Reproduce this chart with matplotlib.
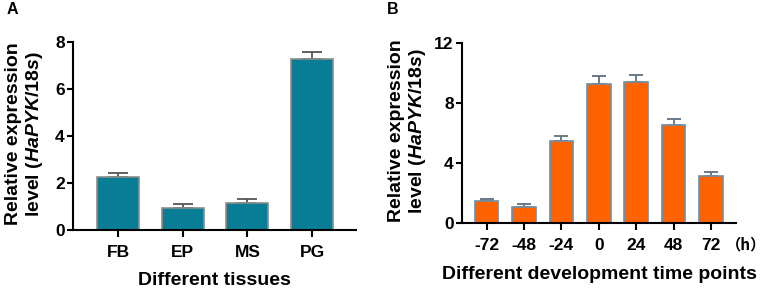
import matplotlib
matplotlib.use("Agg")
import matplotlib.pyplot as plt

plt.rcParams['font.family'] = ['Liberation Sans', 'DejaVu Sans']
plt.rcParams['font.weight'] = 'bold'
plt.rcParams['mathtext.fontset'] = 'custom'
plt.rcParams['mathtext.it'] = 'Liberation Sans:italic:bold'
plt.rcParams['mathtext.rm'] = 'Liberation Sans:bold'

# Panel A data
tissues = ["FB", "EP", "MS", "PG"]
tissue_expr = [2.25, 0.94, 1.14, 7.27]
tissue_err = [0.19, 0.17, 0.18, 0.29]

# Panel B data
timepoints = ["-72", "-48", "-24", "0", "24", "48", "72"]
time_expr = [1.45, 1.07, 5.47, 9.24, 9.42, 6.55, 3.15]
time_err = [0.15, 0.22, 0.31, 0.57, 0.43, 0.39, 0.24]

W, H = 765, 291
fig = plt.figure(figsize=(W / 100, H / 100), dpi=100)

def px_axes(left, right, top, bottom):
    return fig.add_axes([left / W, 1 - bottom / H, (right - left) / W, (bottom - top) / H])

def style(ax):
    for s in ['top', 'right']:
        ax.spines[s].set_visible(False)
    for s in ['left', 'bottom']:
        ax.spines[s].set_linewidth(1.5)
    ax.tick_params(axis='both', direction='out', width=1.5, labelsize=12.5)
    ax.tick_params(axis='y', length=4.5, pad=1.5)
    ax.tick_params(axis='x', length=5, pad=5.5)
    for lab in ax.get_xticklabels() + ax.get_yticklabels():
        lab.set_fontweight('bold')

# ---- Panel A ----
axA = px_axes(73, 356, 42, 230)
xa = range(len(tissues))
axA.bar(xa, tissue_expr, width=0.65, color='#0A7D96', edgecolor='#8C8C8C', linewidth=1.2, zorder=2)
axA.errorbar(xa, tissue_expr, yerr=[[0] * len(tissues), tissue_err], fmt='none',
             ecolor='#555555', elinewidth=1.3, capsize=7.5, capthick=1.3, zorder=1)
axA.set_xlim(-0.70, 3.68)
axA.set_ylim(0, 8)
axA.set_yticks([0, 2, 4, 6, 8])
axA.set_xticks(list(xa))
axA.set_xticklabels(tissues)
style(axA)
axA.set_xlabel("Different tissues", fontsize=14, fontweight='bold', labelpad=9)

# ---- Panel B ----
axB = px_axes(462, 736, 43, 223)
xb = range(len(timepoints))
axB.bar(xb, time_expr, width=0.63, color='#FF6200', edgecolor='#6F8FA6', linewidth=1.2, zorder=2)
axB.errorbar(xb, time_expr, yerr=[[0] * len(timepoints), time_err], fmt='none',
             ecolor='#5E7082', elinewidth=1.3, capsize=4.8, capthick=1.3, zorder=1)
axB.set_xlim(-0.655, 6.67)
axB.set_ylim(0, 12)
axB.set_yticks([0, 4, 8, 12])
axB.set_xticks(list(xb))
axB.set_xticklabels(timepoints)
style(axB)
axB.set_xlabel("Different development time points", fontsize=14, fontweight='bold', labelpad=10)

ylab = "Relative expression\nlevel ($\\mathit{HaPYK/18s}$)"
fig.text(25 / W, 1 - 134 / H, ylab, rotation=90, ha='center', va='center',
         multialignment='center', fontsize=14, fontweight='bold', linespacing=1.15)
fig.text(408 / W, 1 - 131 / H, ylab, rotation=90, ha='center', va='center',
         multialignment='center', fontsize=14, fontweight='bold', linespacing=1.1)

fig.text(746 / W, 1 - 244 / H, "（h）", ha='center', va='center', fontsize=11,
         family=['Noto Sans CJK SC', 'DejaVu Sans'])

fig.text(7 / W, 1 - 10 / H, "A", ha='left', va='center', fontsize=11.5, fontweight='bold')
fig.text(387 / W, 1 - 10 / H, "B", ha='left', va='center', fontsize=11.5, fontweight='bold')

fig.savefig("out.png", dpi=100)
